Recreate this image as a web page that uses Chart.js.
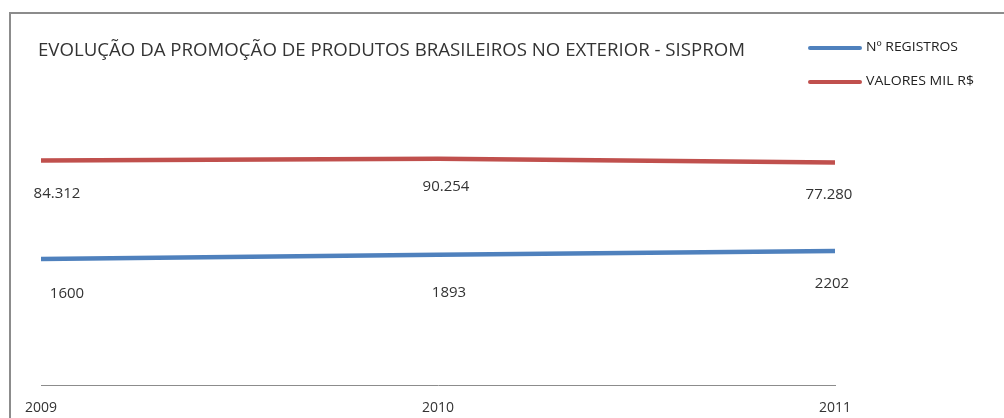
<!DOCTYPE html>
<html>
<head>
<meta charset="utf-8">
<script src="https://cdn.jsdelivr.net/npm/chart.js@4"></script>
<style>
  html, body { margin: 0; padding: 0; background: #fff; }
  #wrap { position: relative; width: 1004px; height: 418px; overflow: hidden; }
  #frame { position: absolute; left: 9px; top: 12px; width: 1100px; height: 500px;
           border-top: 2px solid #8c8c8c; border-left: 2px solid #8c8c8c; }
  #title { position: absolute; left: 38px; top: 37px; font-family: "Open Sans", sans-serif;
           font-size: 18px; color: #333; white-space: nowrap; transform-origin: 0 0; }
  .leg { position: absolute; left: 808px; font-family: "Open Sans", sans-serif; font-size: 12.5px;
         color: #222; white-space: nowrap; }
  .leg span.sw { display: inline-block; width: 54px; height: 4px; border-radius: 2px;
                 vertical-align: middle; margin-right: 4px; }
  .leg span.tx { display: inline-block; transform-origin: 0 50%; }
  canvas { position: absolute; left: 0; top: 0; }
</style>
</head>
<body>
<div id="wrap">
  <div id="frame"></div>
  <canvas id="lineChart" width="1004" height="418"></canvas>
  <div id="title">EVOLUÇÃO DA PROMOÇÃO DE PRODUTOS BRASILEIROS NO EXTERIOR - SISPROM</div>
  <div class="leg" style="top:38px"><span class="sw" style="background:#4f81bd"></span><span class="tx">Nº REGISTROS</span></div>
  <div class="leg" style="top:72px"><span class="sw" style="background:#c0504d"></span><span class="tx">VALORES MIL R$</span></div>
</div>
<script>
var years = ['2009', '2010', '2011'];
var registros = [1600, 1893, 2202];
var valores = [84312, 90254, 77280];

// label offsets from each point (px)
var registrosDx = [26, 11, -3], registrosDy = [35, 38, 33];
var valoresDx = [16, 8, -6], valoresDy = [33, 28, 32];

// fit title / legend texts to the widths seen in the picture
function fitWidth(el, w) {
    var cur = el.getBoundingClientRect().width;
    if (cur > 0) el.style.transform = 'scaleX(' + (w / cur) + ')';
}
fitWidth(document.getElementById('title'), 707);
var legTexts = document.querySelectorAll('.leg .tx');
fitWidth(legTexts[0], 92);
fitWidth(legTexts[1], 108);

var pointLabels = {
    id: 'pointLabels',
    afterDatasetsDraw: function (chart) {
        var ctx = chart.ctx;
        ctx.save();
        ctx.font = '15px "Open Sans", sans-serif';
        ctx.fillStyle = '#333';
        ctx.textAlign = 'center';
        ctx.textBaseline = 'middle';
        chart.data.datasets.forEach(function (ds, i) {
            var meta = chart.getDatasetMeta(i);
            meta.data.forEach(function (pt, j) {
                var v = ds.data[j];
                var txt = ds.thousands ? v.toLocaleString('pt-BR') : String(v);
                ctx.fillText(txt, pt.x + ds.dx[j], pt.y + ds.dy[j]);
            });
        });
        ctx.restore();
    }
};

var ctx = document.getElementById('lineChart').getContext('2d');
var myChart = new Chart(ctx, {
    type: 'line',
    data: {
        labels: years,
        datasets: [{
            label: 'Nº REGISTROS',
            data: registros,
            borderColor: '#4f81bd',
            borderWidth: 4.5,
            pointRadius: 0,
            fill: false,
            dx: registrosDx, dy: registrosDy, thousands: false
        }, {
            label: 'VALORES MIL R$',
            data: valores,
            borderColor: '#c0504d',
            borderWidth: 4.5,
            pointRadius: 0,
            fill: false,
            dx: valoresDx, dy: valoresDy, thousands: true
        }]
    },
    options: {
        responsive: false,
        animation: false,
        layout: { padding: { left: 41, right: 169, top: 99, bottom: 0 } },
        plugins: { legend: { display: false }, tooltip: { enabled: false } },
        scales: {
            x: {
                offset: false,
                grid: { display: false, drawTicks: false },
                border: { display: true, color: '#8c8c8c', width: 1 },
                ticks: { padding: 15, color: '#333', font: { family: 'Open Sans', size: 14 }, maxRotation: 0 },
                afterFit: function (scale) { scale.height = 33; }
            },
            y: {
                type: 'logarithmic',
                display: false,
                min: 10,
                max: 1000000
            }
        }
    },
    plugins: [pointLabels]
});
</script>
</body>
</html>
